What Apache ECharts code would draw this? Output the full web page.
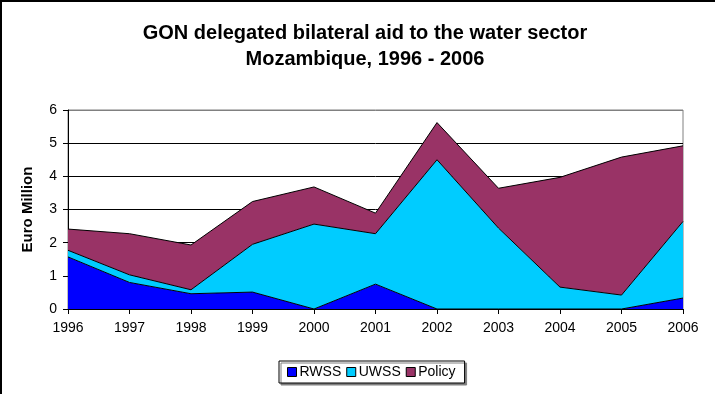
<!DOCTYPE html>
<html>
<head>
<meta charset="utf-8">
<script src="https://cdn.jsdelivr.net/npm/echarts@6/dist/echarts.min.js"></script>
<style>
  html, body { margin: 0; padding: 0; background: #fff; }
  #frame { position: absolute; left: 0; top: 0; width: 713px; height: 392px;
           border-left: 2px solid #000; border-top: 2px solid #000; }
  #chart { position: absolute; left: 0; top: 0; width: 715px; height: 394px; }
</style>
</head>
<body>
<div id="frame"></div>
<div id="chart"></div>
<script>
// Years on the category axis
const years = ['1996', '1997', '1998', '1999', '2000', '2001', '2002', '2003', '2004', '2005', '2006'];
// Aid per sub-sector, Euro million (stacked)
const rwss   = [1.57, 0.80, 0.46, 0.51, 0.00, 0.75, 0.00, 0.00, 0.00, 0.00, 0.33];
const uwss   = [0.20, 0.23, 0.12, 1.44, 2.56, 1.52, 4.50, 2.44, 0.66, 0.42, 2.31];
const policy = [0.64, 1.24, 1.35, 1.29, 1.12, 0.62, 1.12, 1.20, 3.31, 4.16, 2.28];

const font = 'Liberation Sans, Arial, sans-serif';

function area(name, data, color) {
  return {
    name: name,
    type: 'line',
    stack: 'total',
    data: data,
    showSymbol: false,
    symbol: 'none',
    lineStyle: { color: '#000', width: 1 },
    itemStyle: { color: color },
    areaStyle: { color: color, opacity: 1 },
    emphasis: { disabled: true }
  };
}

const titleStyle = { fontFamily: font, fontSize: 20, fontWeight: 'bold', color: '#000' };

const chart = echarts.init(document.getElementById('chart'));
chart.setOption({
  animation: false,
  title: [
    { text: 'GON delegated bilateral aid to the water sector', left: 360, textAlign: 'center', top: 18, textStyle: titleStyle },
    { text: 'Mozambique, 1996 - 2006', left: 360, textAlign: 'center', top: 44, textStyle: titleStyle }
  ],
  legend: {
    bottom: 11,
    left: 279,
    itemWidth: 9,
    itemHeight: 9,
    itemGap: 5,
    icon: 'rect',
    padding: [4, 9, 4, 8],
    borderColor: '#000',
    borderWidth: 1,
    backgroundColor: '#fff',
    shadowColor: '#808080',
    shadowOffsetX: 2,
    shadowOffsetY: 2,
    shadowBlur: 0,
    textStyle: { fontFamily: font, fontSize: 14, color: '#000', padding: [0, 0, 0, -2] },
    itemStyle: { borderColor: '#000', borderWidth: 1 },
    data: ['RWSS', 'UWSS', 'Policy']
  },
  grid: {
    left: 68, right: 32, top: 110, bottom: 85,
    show: true, borderColor: '#808080', borderWidth: 1, backgroundColor: 'transparent'
  },
  xAxis: {
    type: 'category',
    data: years,
    boundaryGap: false,
    axisLine: { lineStyle: { color: '#000', width: 1 } },
    axisTick: { show: true, length: 5, lineStyle: { color: '#000' } },
    axisLabel: { fontFamily: font, fontSize: 14, color: '#000', margin: 12 }
  },
  yAxis: {
    type: 'value',
    min: 0,
    max: 6,
    interval: 1,
    name: 'Euro Million',
    nameLocation: 'middle',
    nameGap: 33,
    nameTextStyle: { fontFamily: font, fontSize: 15, fontWeight: 'bold', color: '#000' },
    axisLine: { show: true, lineStyle: { color: '#000', width: 1 } },
    axisTick: { show: true, length: 5, lineStyle: { color: '#000' } },
    axisLabel: { fontFamily: font, fontSize: 14, color: '#000', margin: 11 },
    splitLine: { show: true, lineStyle: { color: ['#000', '#000', '#000', '#000', '#000', '#000', '#808080'], width: 1 } }
  },
  series: [
    area('RWSS', rwss, '#0000FF'),
    area('UWSS', uwss, '#00CCFF'),
    area('Policy', policy, '#993366')
  ]
});
</script>
</body>
</html>
